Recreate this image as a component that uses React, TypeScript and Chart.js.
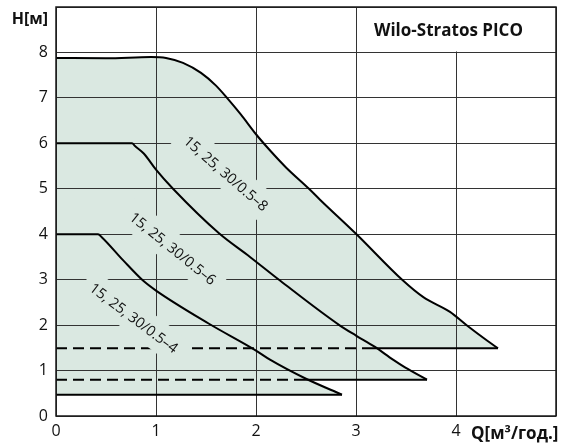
import React, { useEffect, useRef } from 'react';
import { Chart, registerables } from 'chart.js';

Chart.register(...registerables);

// ---- data (Q in m³/h, H in m) ----
const qMin = 0;
const qMax = 5;
const hMin = 0;
const hMax = 9;

const curve8Q = [0, 0.5, 0.95, 1.1, 1.27, 1.45, 1.6, 1.71, 1.85, 2.0, 2.15, 2.3, 2.53, 2.64, 3.0, 3.47, 3.67, 3.94, 4.11, 4.31, 4.42];
const curve8H = [7.88, 7.87, 7.9, 7.88, 7.77, 7.55, 7.27, 7.0, 6.63, 6.2, 5.82, 5.47, 5.0, 4.76, 4.01, 2.98, 2.62, 2.29, 1.99, 1.66, 1.49];

const curve6Q = [0, 0.76, 0.79, 0.88, 1.0, 1.17, 1.63, 1.94, 2.24, 2.84, 3.0, 3.19, 3.37, 3.49, 3.71];
const curve6H = [6.0, 6.0, 5.94, 5.77, 5.42, 5.0, 4.02, 3.5, 2.98, 1.99, 1.77, 1.52, 1.24, 1.07, 0.8];

const curve4Q = [0, 0.42, 0.46, 0.67, 0.87, 1.0, 1.53, 2.0, 2.14, 2.5, 2.86];
const curve4H = [4.0, 4.0, 3.93, 3.43, 2.98, 2.76, 2.03, 1.44, 1.24, 0.82, 0.47];

// minimum-head lines of each curve: level, end of dashed part, end of solid part
const minLineH = [1.49, 0.8, 0.47];
const minLineDashEndQ = [3.07, 2.47, 0];
const minLineSolidEndQ = [4.42, 3.71, 2.86];

const curveLabels = ['15, 25, 30/0.5–8', '15, 25, 30/0.5–6', '15, 25, 30/0.5–4'];
const curveLabelQ = [1.7, 1.17, 0.78];
const curveLabelH = [5.34, 3.69, 2.16];
const curveLabelAngle = [41, 39, 37];

const titleText = 'Wilo-Stratos PICO';
const yTitle = 'H[м]';
const xTitle = 'Q[м³/год.]';

const FILL = '#dae8e1';
const FONT = "'Open Sans', 'Noto Sans', sans-serif";

const pts = (xs: number[], ys: number[]) => xs.map((x, i) => ({ x, y: ys[i] }));

const decorPlugin = {
  id: 'decor',
  beforeDatasetsDraw(chart: any) {
    const { ctx, scales } = chart;
    const x = scales.x;
    const y = scales.y;
    const l = x.getPixelForValue(3);
    const r = x.getPixelForValue(5);
    const t = y.getPixelForValue(9);
    const b = y.getPixelForValue(8);
    ctx.save();
    ctx.fillStyle = '#ffffff';
    ctx.fillRect(l + 1, t + 1, r - l - 2, b - t - 2);
    ctx.restore();
  },
  afterDatasetsDraw(chart: any) {
    const { ctx, scales } = chart;
    const x = scales.x;
    const y = scales.y;
    ctx.save();
    ctx.font = `14.5px ${FONT}`;
    curveLabels.forEach((txt, i) => {
      const px = x.getPixelForValue(curveLabelQ[i]);
      const py = y.getPixelForValue(curveLabelH[i]);
      const w = ctx.measureText(txt).width;
      ctx.save();
      ctx.translate(px, py);
      ctx.rotate((curveLabelAngle[i] * Math.PI) / 180);
      ctx.fillStyle = FILL;
      ctx.fillRect(-w / 2 - 8, -15, w + 16, 30);
      ctx.fillStyle = '#111';
      ctx.textAlign = 'center';
      ctx.textBaseline = 'middle';
      ctx.fillText(txt, 0, 1);
      ctx.restore();
    });
    ctx.restore();
  },
  afterDraw(chart: any) {
    const { ctx, chartArea, scales } = chart;
    const x = scales.x;
    const y = scales.y;
    ctx.save();
    ctx.strokeStyle = '#1a1a1a';
    ctx.lineWidth = 1.5;
    ctx.strokeRect(chartArea.left, chartArea.top, chartArea.right - chartArea.left, chartArea.bottom - chartArea.top);
    const l = x.getPixelForValue(3);
    const b = y.getPixelForValue(8);
    ctx.fillStyle = '#111';
    ctx.font = `bold 17px ${FONT}`;
    ctx.textAlign = 'left';
    ctx.textBaseline = 'alphabetic';
    ctx.fillText(titleText, l + 18, b - 16);
    ctx.font = `bold 16px ${FONT}`;
    ctx.textAlign = 'right';
    ctx.fillText(yTitle, chartArea.left - 8, 24);
    ctx.font = `bold 17px ${FONT}`;
    ctx.textAlign = 'left';
    ctx.fillText(xTitle, x.getPixelForValue(4) + 15, 439);
    ctx.restore();
  },
};

export default function App() {
  const ref = useRef<HTMLCanvasElement | null>(null);

  useEffect(() => {
    if (!ref.current) return;
    const curveStyle = {
      borderColor: '#000',
      borderWidth: 2,
      pointRadius: 0,
      cubicInterpolationMode: 'monotone' as const,
      backgroundColor: FILL,
    };
    const datasets: any[] = [
      { ...curveStyle, label: curveLabels[0], data: pts(curve8Q, curve8H), fill: { value: minLineH[0] } },
      { ...curveStyle, label: curveLabels[1], data: pts(curve6Q, curve6H), fill: { value: minLineH[1] } },
      { ...curveStyle, label: curveLabels[2], data: pts(curve4Q, curve4H), fill: { value: minLineH[2] } },
    ];
    minLineH.forEach((h, i) => {
      if (minLineDashEndQ[i] > 0) {
        datasets.push({
          label: 'min dashed ' + i,
          data: [{ x: 0, y: h }, { x: minLineDashEndQ[i], y: h }],
          borderColor: '#000',
          borderWidth: 2,
          borderDash: [11, 6],
          pointRadius: 0,
          fill: false,
        });
      }
      datasets.push({
        label: 'min solid ' + i,
        data: [{ x: minLineDashEndQ[i], y: h }, { x: minLineSolidEndQ[i], y: h }],
        borderColor: '#000',
        borderWidth: 2,
        pointRadius: 0,
        fill: false,
      });
    });

    const chart = new Chart(ref.current, {
      type: 'line',
      data: { datasets },
      plugins: [decorPlugin],
      options: {
        responsive: false,
        animation: false,
        layout: { padding: { top: 7, right: 15, left: 0, bottom: 0 } },
        plugins: {
          legend: { display: false },
          tooltip: { enabled: false },
          filler: { drawTime: 'beforeDraw' },
        } as any,
        scales: {
          x: {
            type: 'linear',
            min: qMin,
            max: qMax,
            grid: { color: '#333', lineWidth: 1, drawTicks: false },
            border: { display: false },
            ticks: {
              stepSize: 1,
              padding: 6,
              color: '#111',
              font: { family: FONT, size: 16 },
              callback: (v: any) => (v === qMax ? '' : String(v)),
            },
            afterFit: (s: any) => {
              s.height = 27;
              s.paddingLeft = 0;
              s.paddingRight = 0;
            },
          },
          y: {
            type: 'linear',
            min: hMin,
            max: hMax,
            grid: { color: '#333', lineWidth: 1, drawTicks: false },
            border: { display: false },
            ticks: {
              stepSize: 1,
              padding: 8,
              color: '#111',
              font: { family: FONT, size: 16 },
              callback: (v: any) => (v === hMax ? '' : String(v)),
            },
            afterFit: (s: any) => {
              s.width = 56;
              s.paddingTop = 0;
              s.paddingBottom = 0;
            },
          },
        },
      } as any,
    });
    return () => chart.destroy();
  }, []);

  return (
    <div style={{ position: 'fixed', left: 0, top: 0, width: 571, height: 443, background: '#fff' }}>
      <canvas ref={ref} width={571} height={443} style={{ display: 'block' }} />
    </div>
  );
}
